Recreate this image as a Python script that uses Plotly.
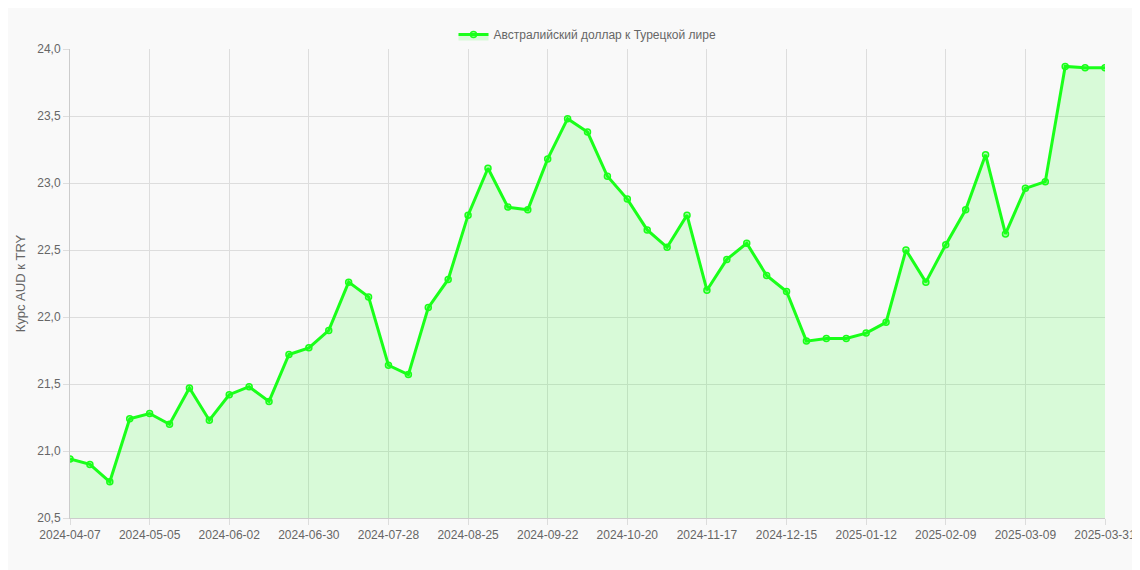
import datetime as dt
import plotly.graph_objects as go

start = dt.date(2024, 4, 7)
dates = [(start + dt.timedelta(days=7 * k)).isoformat() for k in range(52)] + ["2025-03-31"]
values = [20.94, 20.90, 20.77, 21.24, 21.28, 21.20, 21.47, 21.23, 21.42, 21.48,
          21.37, 21.72, 21.77, 21.90, 22.26, 22.15, 21.64, 21.57, 22.07, 22.28,
          22.76, 23.11, 22.82, 22.80, 23.18, 23.48, 23.38, 23.05, 22.88, 22.65,
          22.52, 22.76, 22.20, 22.43, 22.55, 22.31, 22.19, 21.82, 21.84, 21.84,
          21.88, 21.96, 22.50, 22.26, 22.54, 22.80, 23.21, 22.62, 22.96, 23.01,
          23.87, 23.86, 23.86]
tick_labels = [dates[i] for i in range(0, 49, 4)] + [dates[-1]]
series_name = "Австралийский доллар к Турецкой лире"

fig = go.Figure(go.Scatter(
    x=dates, y=values, name=series_name, mode="lines+markers",
    line=dict(color="#1aff1a", width=3),
    marker=dict(size=6, color="rgba(26,255,26,0.3)", line=dict(color="#1aff1a", width=1.5)),
    fill="tozeroy", fillcolor="rgba(26,255,26,0.15)",
))
fig.update_layout(
    width=1140, height=570, paper_bgcolor="#f9f9f9", plot_bgcolor="#f9f9f9",
    margin=dict(l=50, r=28, t=16, b=60),
    font=dict(family="Liberation Sans, Arial", size=12, color="#666"),
    showlegend=True,
    legend=dict(orientation="h", x=0.5, xanchor="center", y=1.0, yanchor="bottom",
                font=dict(size=12, color="#666")),
    xaxis=dict(type="category", tickmode="array", tickvals=tick_labels, ticktext=tick_labels,
               showgrid=True, gridcolor="#ddd", linecolor="#ccc", showline=True,
               ticks="outside", ticklen=6, tickcolor="#ddd", range=[0, len(dates) - 1], tickangle=0),
    yaxis=dict(range=[20.5, 24.0], dtick=0.5, tickformat=".1f",
               title=dict(text="Курс AUD к TRY", font=dict(size=13, color="#666"), standoff=8),
               showgrid=True, gridcolor="#ddd", linecolor="#ccc", showline=True,
               ticks="outside", ticklen=6, tickcolor="#ddd", zeroline=False),
    separators=", ",
)
fig.write_html("out.html")
